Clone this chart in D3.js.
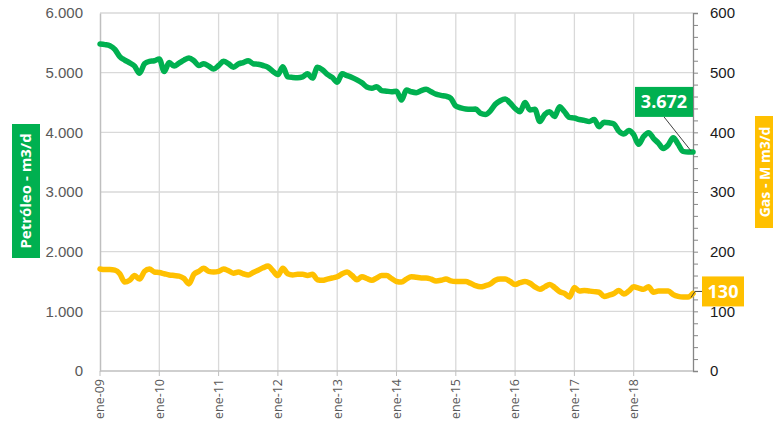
<!DOCTYPE html>
<html>
<head>
<meta charset="utf-8">
<script src="https://cdn.jsdelivr.net/npm/d3@7"></script>
<style>
  body { margin: 0; background: #fff; }
  svg { font-family: "Open Sans", sans-serif; }
  .grid line { stroke: #d9d9d9; stroke-width: 1.3; }
</style>
</head>
<body>
<div id="chart"></div>
<script>
// monthly production, ene-09 .. ene-19
const petroleo = [
  5480, 5470, 5450, 5390, 5270, 5210, 5165, 5110, 4990, 5150, 5190, 5200,
  5230, 5020, 5170, 5110, 5160, 5210, 5245, 5200, 5120, 5150, 5110, 5060,
  5120, 5190, 5150, 5090, 5145, 5170, 5200, 5150, 5140, 5120, 5090, 5020,
  4970, 5100, 4930, 4920, 4915, 4930, 4980, 4910, 5090, 5050, 4970, 4920,
  4840, 4980, 4950, 4920, 4880, 4830, 4760, 4740, 4765, 4700, 4690, 4680,
  4690, 4540, 4710, 4680, 4665, 4700, 4720, 4680, 4640, 4620, 4605, 4570,
  4440, 4410, 4390, 4385, 4390, 4320, 4300, 4360, 4470, 4530, 4560, 4490,
  4400, 4345, 4500, 4375, 4385, 4180, 4300, 4345, 4265, 4430, 4345, 4250,
  4240, 4215, 4200, 4180, 4215, 4095, 4170, 4160, 4140, 4020, 3970, 4030,
  3960, 3800, 3930, 3995, 3900, 3820, 3730, 3790, 3910, 3800, 3680, 3670,
  3672
]
const gas = [
  171, 170, 170, 169, 163, 149, 152, 160, 154, 167, 171, 166,
  165, 163, 161, 160, 159, 155, 146, 162, 167, 172, 167, 166,
  167, 171, 168, 164, 166, 163, 161, 165, 169, 173, 176, 168,
  160, 172, 163, 161, 162, 162, 160, 162, 153, 152, 154, 156,
  158, 163, 166, 160, 153, 158, 155, 152, 156, 160, 160, 155,
  150, 149, 154, 158, 157, 156, 156, 154, 151, 152, 154, 151,
  150, 150, 150, 147, 143, 141, 143, 146, 152, 154, 154, 150,
  145, 148, 150, 147, 141, 137, 141, 145, 140, 133, 130, 124,
  140, 134, 135, 134, 133, 132, 125, 127, 130, 135, 129, 134,
  141, 139, 137, 141, 132, 134, 134, 134, 128, 125, 124, 124,
  130
]
const leftTicks = [0, 1000, 2000, 3000, 4000, 5000, 6000]
const rightTicks = [0, 100, 200, 300, 400, 500, 600]
const yearLabels = ['ene-09', 'ene-10', 'ene-11', 'ene-12', 'ene-13', 'ene-14', 'ene-15', 'ene-16', 'ene-17', 'ene-18']

const green = '#00b050'
const yellow = '#ffc000'

const width = 773
const height = 436
const margin = { top: 13, right: 80, bottom: 65, left: 100 }
const innerRight = width - margin.right
const innerBottom = height - margin.bottom

const months = d3.range(petroleo.length)

const x = d3.scaleLinear().domain([0, petroleo.length - 1]).range([margin.left, innerRight])
const yL = d3.scaleLinear().domain([0, 6000]).range([innerBottom, margin.top])
const yR = d3.scaleLinear().domain([0, 600]).range([innerBottom, margin.top])

const svg = d3.select('#chart').append('svg')
  .attr('width', width)
  .attr('height', height)

const fmt = d3.formatLocale({ decimal: ',', thousands: '.', grouping: [3], currency: ['', ''] }).format(',.0f')

// gridlines
const grid = svg.append('g').attr('class', 'grid')
grid.selectAll('.h').data(leftTicks.slice(1))
  .enter().append('line')
    .attr('x1', margin.left).attr('x2', innerRight)
    .attr('y1', d => yL(d)).attr('y2', d => yL(d))
grid.selectAll('.v').data(yearLabels.slice(1))
  .enter().append('line')
    .attr('x1', (d, i) => x((i + 1) * 12)).attr('x2', (d, i) => x((i + 1) * 12))
    .attr('y1', margin.top).attr('y2', innerBottom)

// left axis
svg.append('g')
  .attr('transform', `translate(${margin.left},0)`)
  .call(d3.axisLeft(yL).tickValues(leftTicks).tickFormat(fmt).tickSize(0).tickPadding(17))
  .call(g => g.select('.domain').attr('stroke', '#bfbfbf').attr('stroke-width', 1.5))
  .call(g => g.selectAll('text').attr('fill', '#595959').style('font-size', '15px'))

// right axis
const rightAxis = svg.append('g')
  .attr('transform', `translate(${innerRight},0)`)
rightAxis.call(d3.axisRight(yR).tickValues(d3.range(0, 601, 20)).tickSize(5).tickFormat(''))
  .call(g => g.select('.domain').attr('stroke', '#868686').attr('stroke-width', 1.3))
  .call(g => g.selectAll('.tick line').attr('stroke', '#868686'))
rightAxis.selectAll('.lbl').data(rightTicks)
  .enter().append('text')
    .attr('x', 17)
    .attr('y', d => yR(d))
    .attr('dy', '0.35em')
    .attr('fill', '#1a1a1a')
    .style('font-size', '15px')
    .text(d => d)

// bottom axis
const bottom = svg.append('g').attr('transform', `translate(0,${innerBottom})`)
bottom.append('line')
  .attr('x1', margin.left).attr('x2', innerRight)
  .attr('stroke', '#bfbfbf').attr('stroke-width', 1.5)
const xt = bottom.selectAll('.xt').data(yearLabels)
  .enter().append('g')
    .attr('transform', (d, i) => `translate(${x(i * 12)},0)`)
xt.append('line').attr('y2', 5).attr('stroke', '#bfbfbf')
xt.append('text')
  .attr('transform', 'rotate(-90)')
  .attr('x', -8)
  .attr('dy', '0.35em')
  .attr('text-anchor', 'end')
  .attr('fill', '#595959')
  .style('font-size', '12.5px')
  .text(d => d)

// lines
const lineL = d3.line().x(i => x(i)).y(i => yL(petroleo[i])).curve(d3.curveMonotoneX)
const lineR = d3.line().x(i => x(i)).y(i => yR(gas[i])).curve(d3.curveMonotoneX)

svg.append('path').datum(months)
  .attr('d', lineR)
  .attr('fill', 'none').attr('stroke', yellow).attr('stroke-width', 5.5)
  .attr('stroke-linejoin', 'round').attr('stroke-linecap', 'round')
svg.append('path').datum(months)
  .attr('d', lineL)
  .attr('fill', 'none').attr('stroke', green).attr('stroke-width', 5.5)
  .attr('stroke-linejoin', 'round').attr('stroke-linecap', 'round')

// end labels
const last = petroleo.length - 1
const px = x(last), py = yL(petroleo[last])
svg.append('line')
  .attr('x1', px - 2).attr('y1', py - 1)
  .attr('x2', px - 29).attr('y2', py - 35)
  .attr('stroke', '#404040').attr('stroke-width', 1)
svg.append('rect')
  .attr('x', px - 58).attr('y', py - 65)
  .attr('width', 58).attr('height', 30)
  .attr('fill', green)
svg.append('text')
  .attr('x', px - 29).attr('y', py - 50)
  .attr('dy', '0.36em')
  .attr('text-anchor', 'middle')
  .attr('fill', '#fff')
  .style('font-size', '18px').style('font-weight', 'bold')
  .text(fmt(petroleo[last]))

const gx = x(last), gy = yR(gas[last])
svg.append('path')
  .attr('d', `M${gx - 2},${gy + 4}L${gx + 2},${gy - 2}L${gx + 9},${gy - 2}`)
  .attr('fill', 'none').attr('stroke', '#404040').attr('stroke-width', 1)
svg.append('rect')
  .attr('x', gx + 9).attr('y', gy - 17)
  .attr('width', 42).attr('height', 30)
  .attr('fill', yellow)
svg.append('text')
  .attr('x', gx + 30).attr('y', gy - 2)
  .attr('dy', '0.36em')
  .attr('text-anchor', 'middle')
  .attr('fill', '#fff')
  .style('font-size', '18px').style('font-weight', 'bold')
  .text(gas[last])

// axis titles
const lt = svg.append('g').attr('transform', 'translate(26,191)')
lt.append('rect').attr('x', -67).attr('y', -14).attr('width', 134).attr('height', 28)
  .attr('transform', 'rotate(-90)').attr('fill', green)
lt.append('text').attr('transform', 'rotate(-90)')
  .attr('text-anchor', 'middle').attr('dy', '0.36em')
  .attr('fill', '#fff').style('font-size', '15px').style('font-weight', 'bold')
  .text('Petróleo - m3/d')

const rt = svg.append('g').attr('transform', 'translate(765,172)')
rt.append('rect').attr('x', -56).attr('y', -10).attr('width', 112).attr('height', 24)
  .attr('transform', 'rotate(-90)').attr('fill', yellow)
rt.append('text').attr('transform', 'rotate(-90)')
  .attr('text-anchor', 'middle').attr('dy', '0.36em')
  .attr('fill', '#fff').style('font-size', '14px').style('font-weight', 'bold')
  .text('Gas - M m3/d')
</script>
</body>
</html>
